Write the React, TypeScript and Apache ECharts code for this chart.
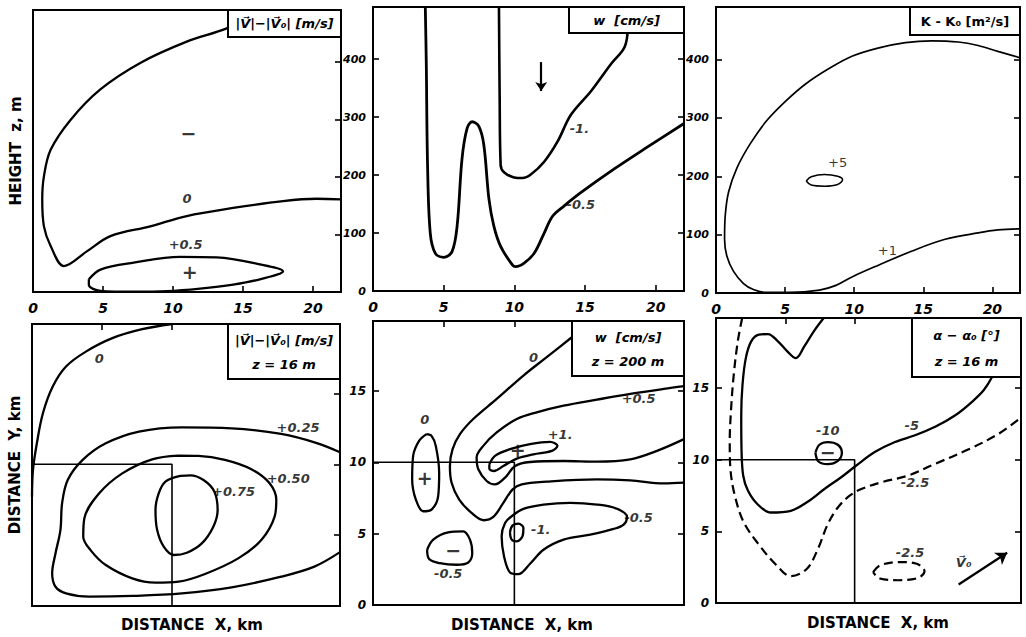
import React, { useEffect, useRef } from "react";
import * as echarts from "echarts";

const FONT = "'DejaVu Sans', 'Liberation Sans', sans-serif";

// ---------- axis ticks ----------
const xMax = 22;
const xInterval = 5;
const zMax = 490;
const zInterval = 100;
const yMax = 19.9;
const yInterval = 5;

// ---------- panel 1 : |V|-|V0| vertical section ----------
const tlZero: number[][] = [
  [14.5, 470], [13.83, 458], [10.98, 435], [7.66, 398], [4.81, 352], [2.68, 299], [1.26, 247],
  [0.78, 201], [0.66, 161], [0.78, 114], [1.26, 80], [2.21, 45], [3.87, 71], [5.53, 97],
  [8.37, 114], [10.98, 132], [14.3, 146], [17.86, 158], [20.24, 162], [22, 161],
];
const tlHalf: number[][] = [
  [3.99, 22], [4.82, 39], [7.19, 51], [10.51, 61], [13.12, 60], [16.2, 48], [17.86, 36],
  [16.2, 22], [14.3, 13], [11.93, 6], [9.56, 1.5], [7.19, 0.5], [4.82, 2], [3.99, 12],
];
const tlLabels: [number, number, string][] = [
  [11.1, 276, "−"], [11.0, 162, "0"], [10.9, 82, "+0.5"], [11.2, 34, "+"],
];

// ---------- panel 2 : w vertical section ----------
const tmMinusHalf: number[][] = [
  [3.7, 490], [3.77, 392], [3.86, 217], [4.05, 100], [4.41, 65], [5.0, 58], [5.59, 68],
  [5.95, 112], [6.3, 229], [6.66, 281], [7.01, 292], [7.49, 284], [7.84, 252], [8.2, 159],
  [8.55, 112], [9.03, 77], [9.86, 45], [10.09, 42], [10.69, 48], [11.4, 65], [12.11, 100],
  [12.7, 129], [13.53, 147], [14.72, 170], [17.09, 211], [19.45, 249], [22, 289],
];
const tmMinusOne: number[][] = [
  [8.91, 490], [8.96, 334], [9.03, 217], [9.27, 205], [9.98, 196], [10.57, 195], [11.16, 201],
  [12.11, 223], [13.06, 258], [14.0, 304], [15.43, 345], [16.85, 392], [17.8, 421], [18.03, 455],
];
const tmArrow: number[][] = [[11.9, 395], [11.9, 345]];
const tmLabels: [number, number, string][] = [
  [14.6, 281, "-1."], [14.7, 150, "-0.5"],
];

// ---------- panel 3 : K-K0 vertical section ----------
const trPlusOne: number[][] = [
  [22, 403], [20.4, 414], [18.97, 424], [17.54, 430], [15.62, 432], [13.71, 429], [11.79, 420],
  [9.88, 406], [8.21, 385], [6.53, 359], [5.1, 330], [3.66, 295], [2.46, 255], [1.51, 214],
  [0.91, 173], [0.67, 133], [0.62, 92], [0.79, 63], [1.27, 37], [1.99, 16], [2.7, 6],
  [3.66, 1], [5.33, 1], [7.49, 5], [8.68, 13], [9.88, 28], [11.79, 48], [14.19, 72],
  [16.58, 92], [18.97, 103], [20.4, 108], [22, 110],
];
const trPlusFive: number[][] = [
  [6.53, 192], [6.89, 199], [7.85, 203], [8.8, 200], [9.16, 194], [8.8, 186], [7.85, 183], [6.89, 185],
];
const trLabels: [number, number, string][] = [
  [8.8, 224, "+5"], [12.4, 72, "+1"],
];

// ---------- panel 4 : |V|-|V0| at z = 16 m ----------
const blZero: number[][] = [
  [10, 19.9], [7.87, 19.53], [5.74, 18.9], [3.85, 17.95], [2.43, 16.9], [1.49, 15.5],
  [0.78, 13.6], [0.35, 11.5], [0.07, 9.6], [0, 7.7],
];
const blQuarter: number[][] = [
  [22, 10.85], [20.4, 11.48], [17.8, 12.14], [14.26, 12.54], [10.71, 12.61], [7.64, 12.31],
  [5.27, 11.48], [3.62, 10.31], [2.55, 8.89], [2.15, 7.25], [2.03, 5.36], [1.68, 3.72],
  [1.44, 2.31], [1.68, 1.36], [2.43, 0.89], [4.09, 0.66], [7.16, 0.71], [10.71, 0.89],
  [14.26, 1.32], [17.8, 2.07], [20.17, 2.78], [22, 3.8],
];
const blHalf: number[][] = [
  [10.47, 10.61], [8.58, 10.35], [6.45, 9.36], [4.8, 7.95], [3.74, 6.19], [3.66, 4.89],
  [4.21, 3.91], [5.27, 2.89], [7.16, 1.95], [8.82, 1.65], [10.47, 1.72], [12.36, 2.26],
  [14.73, 3.36], [16.38, 4.66], [17.33, 6.31], [17.45, 7.48], [16.97, 8.66], [15.67, 9.65],
  [13.78, 10.31], [11.89, 10.59],
];
const blThreeQuarter: number[][] = [
  [10.59, 9.18], [9.53, 8.78], [9.05, 7.95], [8.82, 6.78], [8.94, 5.36], [9.41, 4.19],
  [10.12, 3.6], [11.06, 3.76], [12.13, 4.42], [12.95, 5.6], [13.26, 6.78], [13.03, 8.07],
  [12.25, 8.89], [11.3, 9.22],
];
const blLabels: [number, number, string][] = [
  [4.8, 17.5, "0"], [19.0, 12.6, "+0.25"], [18.3, 9.0, "+0.50"], [14.4, 8.07, "+0.75"],
];

// ---------- panel 5 : w at z = 200 m ----------
const bmZeroMain: number[][] = [
  [14.3, 18.95], [14.0, 18.71], [12.29, 17.37], [10.64, 16.08], [8.75, 14.44], [7.09, 13.03],
  [6.15, 11.97], [5.63, 10.92], [5.44, 9.74], [5.56, 8.57], [6.1, 7.39], [6.97, 6.46],
  [7.85, 5.94], [8.51, 6.17], [9.22, 7.16], [9.88, 8.1], [10.52, 8.45], [12.29, 8.64],
  [15.84, 8.8], [18.2, 8.73], [20.57, 8.52], [22, 8.57],
];
const bmZeroLeft: number[][] = [
  [3.78, 11.97], [3.26, 11.5], [2.84, 10.45], [2.77, 8.8], [3.03, 7.39], [3.55, 6.57],
  [4.14, 6.69], [4.61, 7.63], [4.68, 9.27], [4.44, 11.15], [4.14, 11.85],
];
const bmPlusHalf: number[][] = [
  [22, 15.33], [20.57, 15.14], [18.2, 14.79], [15.84, 14.39], [13.48, 13.97], [11.58, 13.5],
  [10.17, 13.03], [8.75, 12.09], [7.8, 11.15], [7.33, 10.33], [7.45, 9.51], [8.04, 8.69],
  [8.63, 8.45], [9.34, 8.92], [10.05, 9.74], [11.11, 10.02], [13.48, 10.09], [15.84, 10.05],
  [18.2, 10.21], [20.09, 10.8], [22, 11.62],
];
const bmPlusOne: number[][] = [
  [8.23, 9.86], [8.63, 10.45], [9.69, 10.92], [11.11, 11.27], [12.53, 11.43], [13.05, 11.15],
  [12.65, 10.8], [11.35, 10.56], [10.17, 10.26], [9.22, 9.74], [8.56, 9.39], [8.23, 9.55],
];
const bmMinusHalfRight: number[][] = [
  [9.81, 6.22], [10.64, 6.74], [12.06, 7.04], [13.95, 7.16], [15.84, 7.04], [17.26, 6.74],
  [17.97, 6.17], [17.73, 5.63], [17.02, 5.33], [15.37, 4.93], [13.48, 4.58], [12.06, 3.87],
  [11.11, 2.89], [10.28, 2.16], [9.69, 2.28], [9.27, 3.4], [9.1, 4.81], [9.34, 5.75],
];
const bmMinusOne: number[][] = [
  [9.69, 5.09], [9.86, 5.56], [10.28, 5.7], [10.64, 5.4], [10.59, 4.86], [10.17, 4.46], [9.81, 4.58],
];
const bmMinusHalfLeft: number[][] = [
  [3.83, 3.87], [4.26, 4.58], [5.32, 5.09], [6.38, 5.16], [6.86, 4.58], [7.02, 3.64],
  [6.74, 2.98], [5.91, 2.82], [4.73, 2.93], [3.97, 3.22],
];
const bmLabels: [number, number, string][] = [
  [3.66, 13.03, "0"], [3.66, 8.92, "+"], [11.35, 17.37, "0"], [18.79, 14.44, "+0.5"],
  [13.24, 11.97, "+1."], [10.24, 10.85, "+"], [18.79, 6.1, "-0.5"], [5.67, 3.87, "−"],
  [5.32, 2.23, "-0.5"], [11.87, 5.28, "-1."],
];

// ---------- panel 6 : alpha-alpha0 at z = 16 m ----------
const brMinusFive: number[][] = [
  [7.77, 19.9], [7.09, 19.02], [6.37, 17.92], [5.76, 17.1], [5.11, 17.61], [4.43, 18.31],
  [3.75, 18.78], [3.1, 18.74], [2.54, 18.27], [2.15, 17.1], [1.91, 15.22], [1.82, 13.11],
  [1.84, 10.77], [1.96, 8.9], [2.3, 7.85], [2.98, 6.91], [3.95, 6.32], [5.4, 6.44],
  [6.61, 7.07], [7.82, 7.96], [9.03, 8.78], [10.12, 9.6], [11.45, 10.54], [12.91, 11.24],
  [14.36, 11.71], [15.81, 12.3], [17.26, 13.11], [18.47, 14.05], [19.32, 14.87], [19.93, 15.81],
  [20.2, 16.5],
];
const brMinusTwoHalf: number[][] = [
  [1.89, 19.9], [1.57, 18.27], [1.28, 15.93], [1.09, 13.58], [0.99, 11.24], [1.04, 9.37],
  [1.36, 7.49], [2.01, 5.62], [3.17, 3.98], [4.31, 2.69], [5.4, 1.87], [6.56, 2.39],
  [7.34, 3.75], [8.06, 5.5], [8.79, 6.67], [9.64, 7.49], [10.48, 7.96], [11.94, 8.43],
  [13.87, 8.9], [15.81, 9.72], [18.23, 10.73], [20.41, 11.83], [22, 12.95],
];
const brSmallDashed: number[][] = [
  [11.33, 2.15], [11.82, 2.62], [13.15, 2.86], [14.48, 2.74], [15.04, 2.22], [14.6, 1.76],
  [13.15, 1.59], [11.82, 1.71],
];
const brMinusTen: number[][] = [
  [7.17, 10.49], [7.46, 11.05], [8.06, 11.24], [8.79, 11.05], [9.08, 10.49], [8.79, 9.93],
  [8.06, 9.7], [7.39, 9.88],
];
const brWindArrow: number[][] = [[17.5, 1.29], [21.0, 3.51]];
const brLabels: [number, number, string][] = [
  [8.06, 12.06, "-10"], [8.06, 10.54, "−"], [14.12, 12.37, "-5"], [14.36, 8.38, "-2.5"],
  [14.0, 3.51, "-2.5"], [17.87, 2.81, "V⃗₀"],
];

// the 10 km x 10 km square marked in the horizontal sections
const squareLine: number[][] = [[0, 10], [10, 10], [10, 0]];

// ---------- titles ----------
const panelTitles: string[][] = [
  ["|V⃗|−|V⃗₀| [m/s]"],
  ["w  [cm/s]"],
  ["K - K₀ [m²/s]"],
  ["|V⃗|−|V⃗₀| [m/s]", "z = 16 m"],
  ["w  [cm/s]", "z = 200 m"],
  ["α − α₀ [°]", "z = 16 m"],
];
const xAxisTitle = "DISTANCE  X, km";

// ---------- layout ----------
const grids = [
  { left: 33, top: 10, width: 308, height: 282 },
  { left: 373, top: 7, width: 311, height: 284 },
  { left: 716, top: 7, width: 304, height: 286 },
  { left: 32, top: 324, width: 308, height: 282 },
  { left: 373, top: 321, width: 311, height: 284 },
  { left: 716, top: 318, width: 305, height: 285 },
];
const titleBoxes = [
  { x: 228, y: 10, w: 113, h: 27 },
  { x: 569, y: 7, w: 115, h: 26 },
  { x: 910, y: 7, w: 110, h: 28 },
  { x: 228, y: 324, w: 112, h: 55 },
  { x: 572, y: 321, w: 112, h: 55 },
  { x: 912, y: 318, w: 109, h: 59 },
];
const xTitlePos = [
  { x: 192, y: 625 },
  { x: 522, y: 625 },
  { x: 878, y: 623 },
];

function buildOption() {
  const black = "#000";
  const fmtX = (v: number) => (v % xInterval === 0 ? String(v) : "");
  const fmtZ = (v: number) => (v % zInterval === 0 ? String(v) : "");
  const fmtY = (v: number) => (v % yInterval === 0 ? String(v) : "");
  const labelFont = { color: black, fontWeight: "bold" as const, fontStyle: "italic" as const, fontFamily: FONT };
  const line = { show: true, onZero: false, lineStyle: { color: black, width: 2 } };
  const tick = (show: boolean) => ({ show, inside: true, length: 6, lineStyle: { color: black, width: 1.6 } });

  const xAxis: any[] = [];
  const yAxis: any[] = [];
  for (let i = 0; i < 6; i++) {
    const top = i < 3;
    xAxis.push({
      gridIndex: i, type: "value", min: 0, max: xMax, interval: xInterval,
      position: top ? "bottom" : "top",
      axisLine: line, axisTick: tick(true), splitLine: { show: false },
      axisLabel: top
        ? { show: true, formatter: fmtX, fontSize: 14, margin: 9, ...labelFont }
        : { show: false },
    });
  }
  for (let i = 0; i < 6; i++) {
    const top = i < 3;
    const first = i === 0 || i === 3;
    yAxis.push({
      gridIndex: i, type: "value", min: 0, max: top ? zMax : yMax, interval: top ? zInterval : yInterval,
      position: "left", axisLine: line, axisTick: tick(!first), splitLine: { show: false },
      axisLabel: first
        ? { show: false }
        : { show: true, formatter: top ? fmtZ : fmtY, fontSize: top ? 11 : 12, margin: 7, ...labelFont },
      name: first ? (top ? "HEIGHT  z, m" : "DISTANCE  Y, km") : "",
      nameLocation: "middle", nameGap: 10,
      nameTextStyle: { color: black, fontSize: 15, fontWeight: "bold", fontFamily: FONT },
    });
  }
  for (let i = 0; i < 6; i++) {
    const top = i < 3;
    yAxis.push({
      gridIndex: i, type: "value", min: 0, max: top ? zMax : yMax, interval: top ? zInterval : yInterval,
      position: "right", axisLine: line, axisTick: tick(true), axisLabel: { show: false },
      splitLine: { show: false },
    });
  }

  const series: any[] = [];
  const contour = (g: number, data: number[][], closed: boolean, width = 2.3, dashed = false, smooth: number | boolean = 0.35) => {
    series.push({
      type: "line", xAxisIndex: g, yAxisIndex: g, data: closed ? [...data, data[0]] : data,
      smooth, symbol: "none", silent: true, z: 3, clip: true,
      lineStyle: { color: black, width, type: dashed ? [9, 5] : "solid" },
    });
  };
  const labels = (g: number, items: [number, number, string][], upright = false) => {
    series.push({
      type: "scatter", xAxisIndex: g, yAxisIndex: g, symbolSize: 0, silent: true, z: 5,
      data: items.map(([x, y, t]) =>
        t === "+" || t === "−"
          ? { value: [x, y], name: t, label: { fontSize: 19, fontStyle: "normal" } }
          : { value: [x, y], name: t }
      ),
      label: {
        show: true, position: "inside", formatter: "{b}", color: black,
        fontFamily: FONT, fontWeight: upright ? "normal" : "bold", fontStyle: upright ? "normal" : "italic",
        fontSize: 13,
      },
      labelLayout: { hideOverlap: false },
    });
  };
  const arrow = (g: number, pts: number[][], size: number) => {
    series.push({
      type: "lines", coordinateSystem: "cartesian2d", xAxisIndex: g, yAxisIndex: g, silent: true, z: 4,
      symbol: ["none", "arrow"], symbolSize: size,
      lineStyle: { color: black, width: 2.2, opacity: 1, curveness: 0 },
      data: [{ coords: pts }],
    });
  };

  // panel 1
  contour(0, tlZero, false);
  contour(0, tlHalf, true);
  labels(0, tlLabels);
  // panel 2
  contour(1, tmMinusHalf, false, 2.8);
  contour(1, tmMinusOne, false, 2.6);
  arrow(1, tmArrow, 9);
  labels(1, tmLabels);
  // panel 3
  contour(2, trPlusOne, false, 1.7);
  contour(2, trPlusFive, true, 1.6);
  labels(2, trLabels, true);
  // panel 4
  contour(3, blZero, false);
  contour(3, blQuarter, false);
  contour(3, blHalf, true);
  contour(3, blThreeQuarter, true);
  contour(3, squareLine, false, 1.6, false, false);
  labels(3, blLabels);
  // panel 5
  contour(4, bmZeroMain, false);
  contour(4, bmZeroLeft, true);
  contour(4, bmPlusHalf, false);
  contour(4, bmPlusOne, true);
  contour(4, bmMinusHalfRight, true);
  contour(4, bmMinusOne, true);
  contour(4, bmMinusHalfLeft, true);
  contour(4, squareLine, false, 1.6, false, false);
  labels(4, bmLabels);
  // panel 6
  contour(5, brMinusFive, false);
  contour(5, brMinusTwoHalf, false, 2.2, true);
  contour(5, brSmallDashed, true, 2.2, true);
  contour(5, brMinusTen, true);
  contour(5, squareLine, false, 1.6, false, false);
  arrow(5, brWindArrow, 11);
  labels(5, brLabels);

  const graphic: any[] = [];
  titleBoxes.forEach((b, i) => {
    graphic.push({
      type: "rect", z: 100, shape: { x: b.x, y: b.y, width: b.w, height: b.h },
      style: { fill: "#fff", stroke: black, lineWidth: 2 },
    });
    const lines = panelTitles[i];
    const upright = i === 2;
    lines.forEach((t, k) => {
      const cy = lines.length === 1 ? b.y + b.h / 2 : b.y + b.h * (k === 0 ? 0.3 : 0.74);
      graphic.push({
        type: "text", z: 101, x: b.x + b.w / 2, y: cy,
        style: {
          text: t, fill: black, align: "center", verticalAlign: "middle",
          font: `${upright ? "" : "italic "}bold 13px ${FONT}`,
        },
      });
    });
  });
  xTitlePos.forEach((p) => {
    graphic.push({
      type: "text", z: 101, x: p.x, y: p.y,
      style: { text: xAxisTitle, fill: black, align: "center", verticalAlign: "middle", font: `bold 15px ${FONT}` },
    });
  });

  return {
    animation: false,
    backgroundColor: "#fff",
    grid: grids.map((g) => ({ ...g, show: true, borderColor: black, borderWidth: 2, backgroundColor: "transparent", containLabel: false })),
    xAxis, yAxis, series, graphic,
  };
}

export default function App() {
  const ref = useRef<HTMLDivElement>(null);
  useEffect(() => {
    if (!ref.current) return;
    const chart = echarts.init(ref.current, null, { renderer: "svg" });
    chart.setOption(buildOption() as any);
    return () => chart.dispose();
  }, []);
  return (
    <div
      ref={ref}
      style={{ position: "fixed", left: 0, top: 0, width: 1026, height: 637, background: "#fff" }}
    />
  );
}
